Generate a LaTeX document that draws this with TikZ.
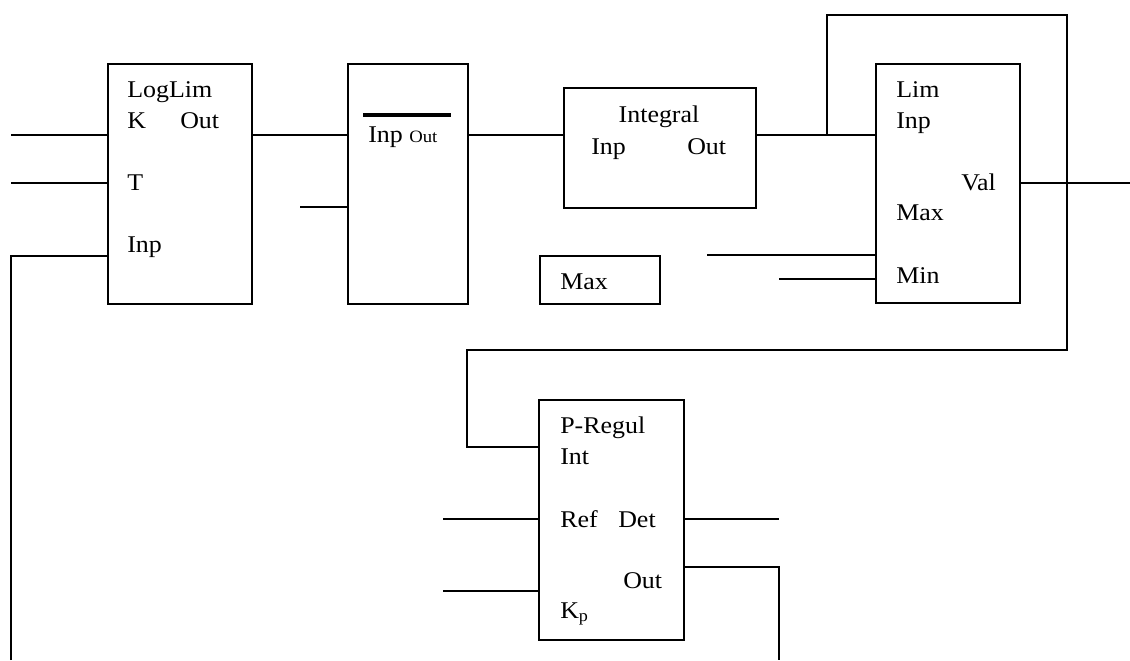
\documentclass[tikz,border=0pt]{standalone}
\usepackage{fontspec}
\setmainfont{Liberation Serif}[FakeStretch=1.08]
\usetikzlibrary{calc}
\begin{document}
\begin{tikzpicture}[x=0.75pt,y=-0.75pt,
  box/.style={draw,line width=1.3pt,rectangle,anchor=north west,inner sep=0pt},
  wire/.style={line width=1.2pt},
  lbl/.style={anchor=base west,inner sep=0pt,font=\fontsize{18}{21}\selectfont},
  lblc/.style={anchor=base,inner sep=0pt,font=\fontsize{18}{21}\selectfont}]
\useasboundingbox (0,0) rectangle (1130,660);
% boxes
\node[box,minimum width=108pt,minimum height=180pt] (ll) at (107,63) {};
\node[box,minimum width=90pt,minimum height=180pt] (inv) at (347,63) {};
\node[box,minimum width=144pt,minimum height=90pt] (integ) at (563,87) {};
\node[box,minimum width=108pt,minimum height=179.25pt] (lim) at (875,63) {};
\node[box,minimum width=90pt,minimum height=36pt] (maxb) at (539,255) {};
\node[box,minimum width=108.75pt,minimum height=180pt] (preg) at (538,399) {};
% bar
\coordinate (barL) at (363,115);
\coordinate (barR) at (451,115);
\draw[line width=3.2pt] (barL) -- (barR);
% labels
\node[lbl] (t1) at (127,98) {LogLim};
\node[lbl] (t2) at (127,128) {K};
\node[lbl] (t3) at (180,128) {Out};
\node[lbl] (t4) at (127,190) {T};
\node[lbl] (t5) at (127,252) {Inp};
\node[lbl] (t6) at (368,142) {Inp {\fontsize{13}{15}\selectfont Out}};
\node[lblc] (t8) at (659,122) {Integral};
\node[lbl] (t9) at (591,154) {Inp};
\node[lbl] (t10) at (687,154) {Out};
\node[lbl] (t11) at (896,98) {Lim};
\node[lbl] (t12) at (896,128) {Inp};
\node[lbl] (t13) at (961,190) {Val};
\node[lbl] (t14) at (896,220) {Max};
\node[lbl] (t15) at (896,283) {Min};
\node[lbl] (t16) at (560,289) {Max};
\node[lbl] (t17) at (560,433) {P-Regul};
\node[lbl] (t18) at (560,464) {Int};
\node[lbl] (t19) at (560,527) {Ref};
\node[lbl] (t20) at (618,527) {Det};
\node[lbl] (t21) at (623,588) {Out};
\node[lbl] (t22) at (560,618) {K\textsubscript{p}};
% free ends
\coordinate (a1) at (11,135);
\coordinate (a2) at (11,183);
\coordinate (a3) at (11,660);
\coordinate (a4) at (300,207);
\coordinate (j1) at (827,135);
\coordinate (f1) at (827,15);
\coordinate (f2) at (1067,15);
\coordinate (f3) at (1067,350);
\coordinate (f4) at (467,350);
\coordinate (f5) at (467,447);
\coordinate (v1) at (1130,183);
\coordinate (m1) at (707,255);
\coordinate (m2) at (779,279);
\coordinate (r1) at (443,519);
\coordinate (r2) at (443,591);
\coordinate (d1) at (779,519);
\coordinate (o1) at (779,567);
\coordinate (o2) at (779,660);
% wires
\draw[wire] (a1) -- (a1 -| ll.west);
\draw[wire] (a2) -- (a2 -| ll.west);
\draw[wire] (a3) -- (11,256) -- (ll.west |- 0,256);
\draw[wire] (ll.east |- a1) -- (inv.west |- a1);
\draw[wire] (a4) -- (a4 -| inv.west);
\draw[wire] (inv.east |- a1) -- (integ.west |- a1);
\draw[wire] (integ.east |- a1) -- (lim.west |- a1);
\draw[wire] (j1) -- (f1) -- (f2) -- (f3) -- (f4) -- (f5) -- (f5 -| preg.west);
\draw[wire] (lim.east |- v1) -- (v1);
\draw[wire] (m1) -- (m1 -| lim.west);
\draw[wire] (m2) -- (m2 -| lim.west);
\draw[wire] (r1) -- (r1 -| preg.west);
\draw[wire] (r2) -- (r2 -| preg.west);
\draw[wire] (preg.east |- d1) -- (d1);
\draw[wire] (preg.east |- o1) -- (o1) -- (o2);
\end{tikzpicture}
\end{document}
